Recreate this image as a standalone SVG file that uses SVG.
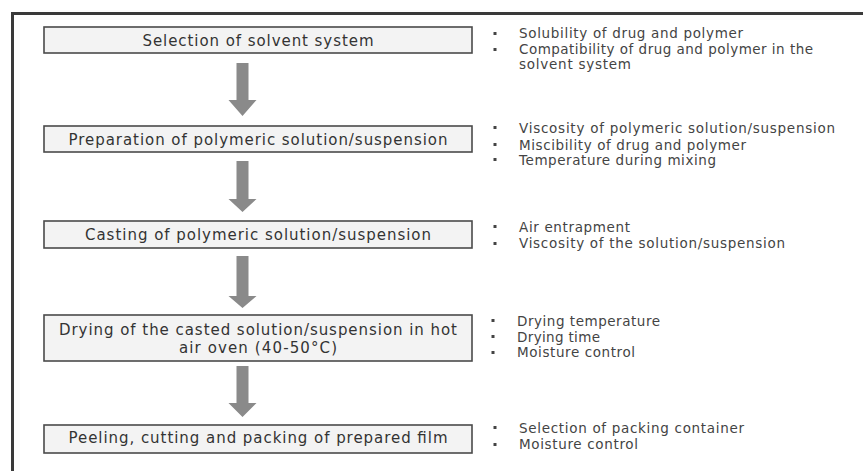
<svg xmlns="http://www.w3.org/2000/svg" width="863" height="471" viewBox="0 0 863 471">
<defs>
<style>
.box{fill:#f3f3f3;stroke:#4a4a4a;stroke-width:1.6}
.bt{font-family:"DejaVu Sans","Liberation Sans",Arial,sans-serif;font-size:15px;fill:#333;text-anchor:middle}
.rt{font-family:"DejaVu Sans","Liberation Sans",Arial,sans-serif;font-size:13.5px;fill:#444}
.bul{fill:#444}
.arr{fill:#8a8a8a}
.frame{stroke:#3a3a3a;stroke-width:3;fill:none}
</style>
</defs>
<rect width="863" height="471" fill="#ffffff"/>
<path class="frame" d="M12.5 471 V13.5 H863"/>

<g id="connectors">
<polygon class="arr" points="236.5,63 248.5,63 248.5,100 256.5,100 242.5,116 228.5,100 236.5,100"/>
<polygon class="arr" points="236.5,161 248.5,161 248.5,199 256.5,199 242.5,212 228.5,199 236.5,199"/>
<polygon class="arr" points="236.5,256 248.5,256 248.5,296 256.5,296 242.5,308 228.5,296 236.5,296"/>
<polygon class="arr" points="236.5,366 248.5,366 248.5,403 256.5,403 242.5,417 228.5,403 236.5,403"/>
</g>

<g id="node1">
<rect class="box" x="44" y="27" width="428" height="26"/>
<text class="bt" x="258" y="46" textLength="231">Selection of solvent system</text>
</g>
<g id="node2">
<rect class="box" x="44" y="126" width="428" height="26"/>
<text class="bt" x="258" y="145" textLength="379">Preparation of polymeric solution/suspension</text>
</g>
<g id="node3">
<rect class="box" x="44" y="221" width="428" height="27"/>
<text class="bt" x="258" y="240" textLength="346">Casting of polymeric solution/suspension</text>
</g>
<g id="node4">
<rect class="box" x="44" y="315" width="428" height="46"/>
<text class="bt" x="258" y="335" textLength="398">Drying of the casted solution/suspension in hot</text>
<text class="bt" x="258" y="353" textLength="158">air oven (40-50°C)</text>
</g>
<g id="node5">
<rect class="box" x="44" y="425" width="428" height="28"/>
<text class="bt" x="258" y="443" textLength="379">Peeling, cutting and packing of prepared film</text>
</g>

<g id="notes1">
<rect class="bul" x="493.5" y="32" width="3" height="3"/>
<rect class="bul" x="493.5" y="48" width="3" height="3"/>
<text class="rt" x="519" y="38" textLength="224">Solubility of drug and polymer</text>
<text class="rt" x="519" y="54" textLength="294">Compatibility of drug and polymer in the</text>
<text class="rt" x="519" y="69" textLength="112">solvent system</text>
</g>
<g id="notes2">
<rect class="bul" x="493.5" y="126" width="3" height="3"/>
<rect class="bul" x="493.5" y="143" width="3" height="3"/>
<rect class="bul" x="493.5" y="158" width="3" height="3"/>
<text class="rt" x="519" y="133" textLength="316">Viscosity of polymeric solution/suspension</text>
<text class="rt" x="519" y="150" textLength="227">Miscibility of drug and polymer</text>
<text class="rt" x="519" y="165" textLength="197">Temperature during mixing</text>
</g>
<g id="notes3">
<rect class="bul" x="493.5" y="225" width="3" height="3"/>
<rect class="bul" x="493.5" y="242" width="3" height="3"/>
<text class="rt" x="519" y="232" textLength="111">Air entrapment</text>
<text class="rt" x="519" y="248" textLength="266">Viscosity of the solution/suspension</text>
</g>
<g id="notes4">
<rect class="bul" x="491.5" y="319" width="3" height="3"/>
<rect class="bul" x="491.5" y="335" width="3" height="3"/>
<rect class="bul" x="491.5" y="351" width="3" height="3"/>
<text class="rt" x="517" y="326" textLength="143">Drying temperature</text>
<text class="rt" x="517" y="342" textLength="83">Drying time</text>
<text class="rt" x="517" y="357" textLength="118">Moisture control</text>
</g>
<g id="notes5">
<rect class="bul" x="493.5" y="426" width="3" height="3"/>
<rect class="bul" x="493.5" y="443" width="3" height="3"/>
<text class="rt" x="519" y="433" textLength="225">Selection of packing container</text>
<text class="rt" x="519" y="449" textLength="119">Moisture control</text>
</g>
</svg>
